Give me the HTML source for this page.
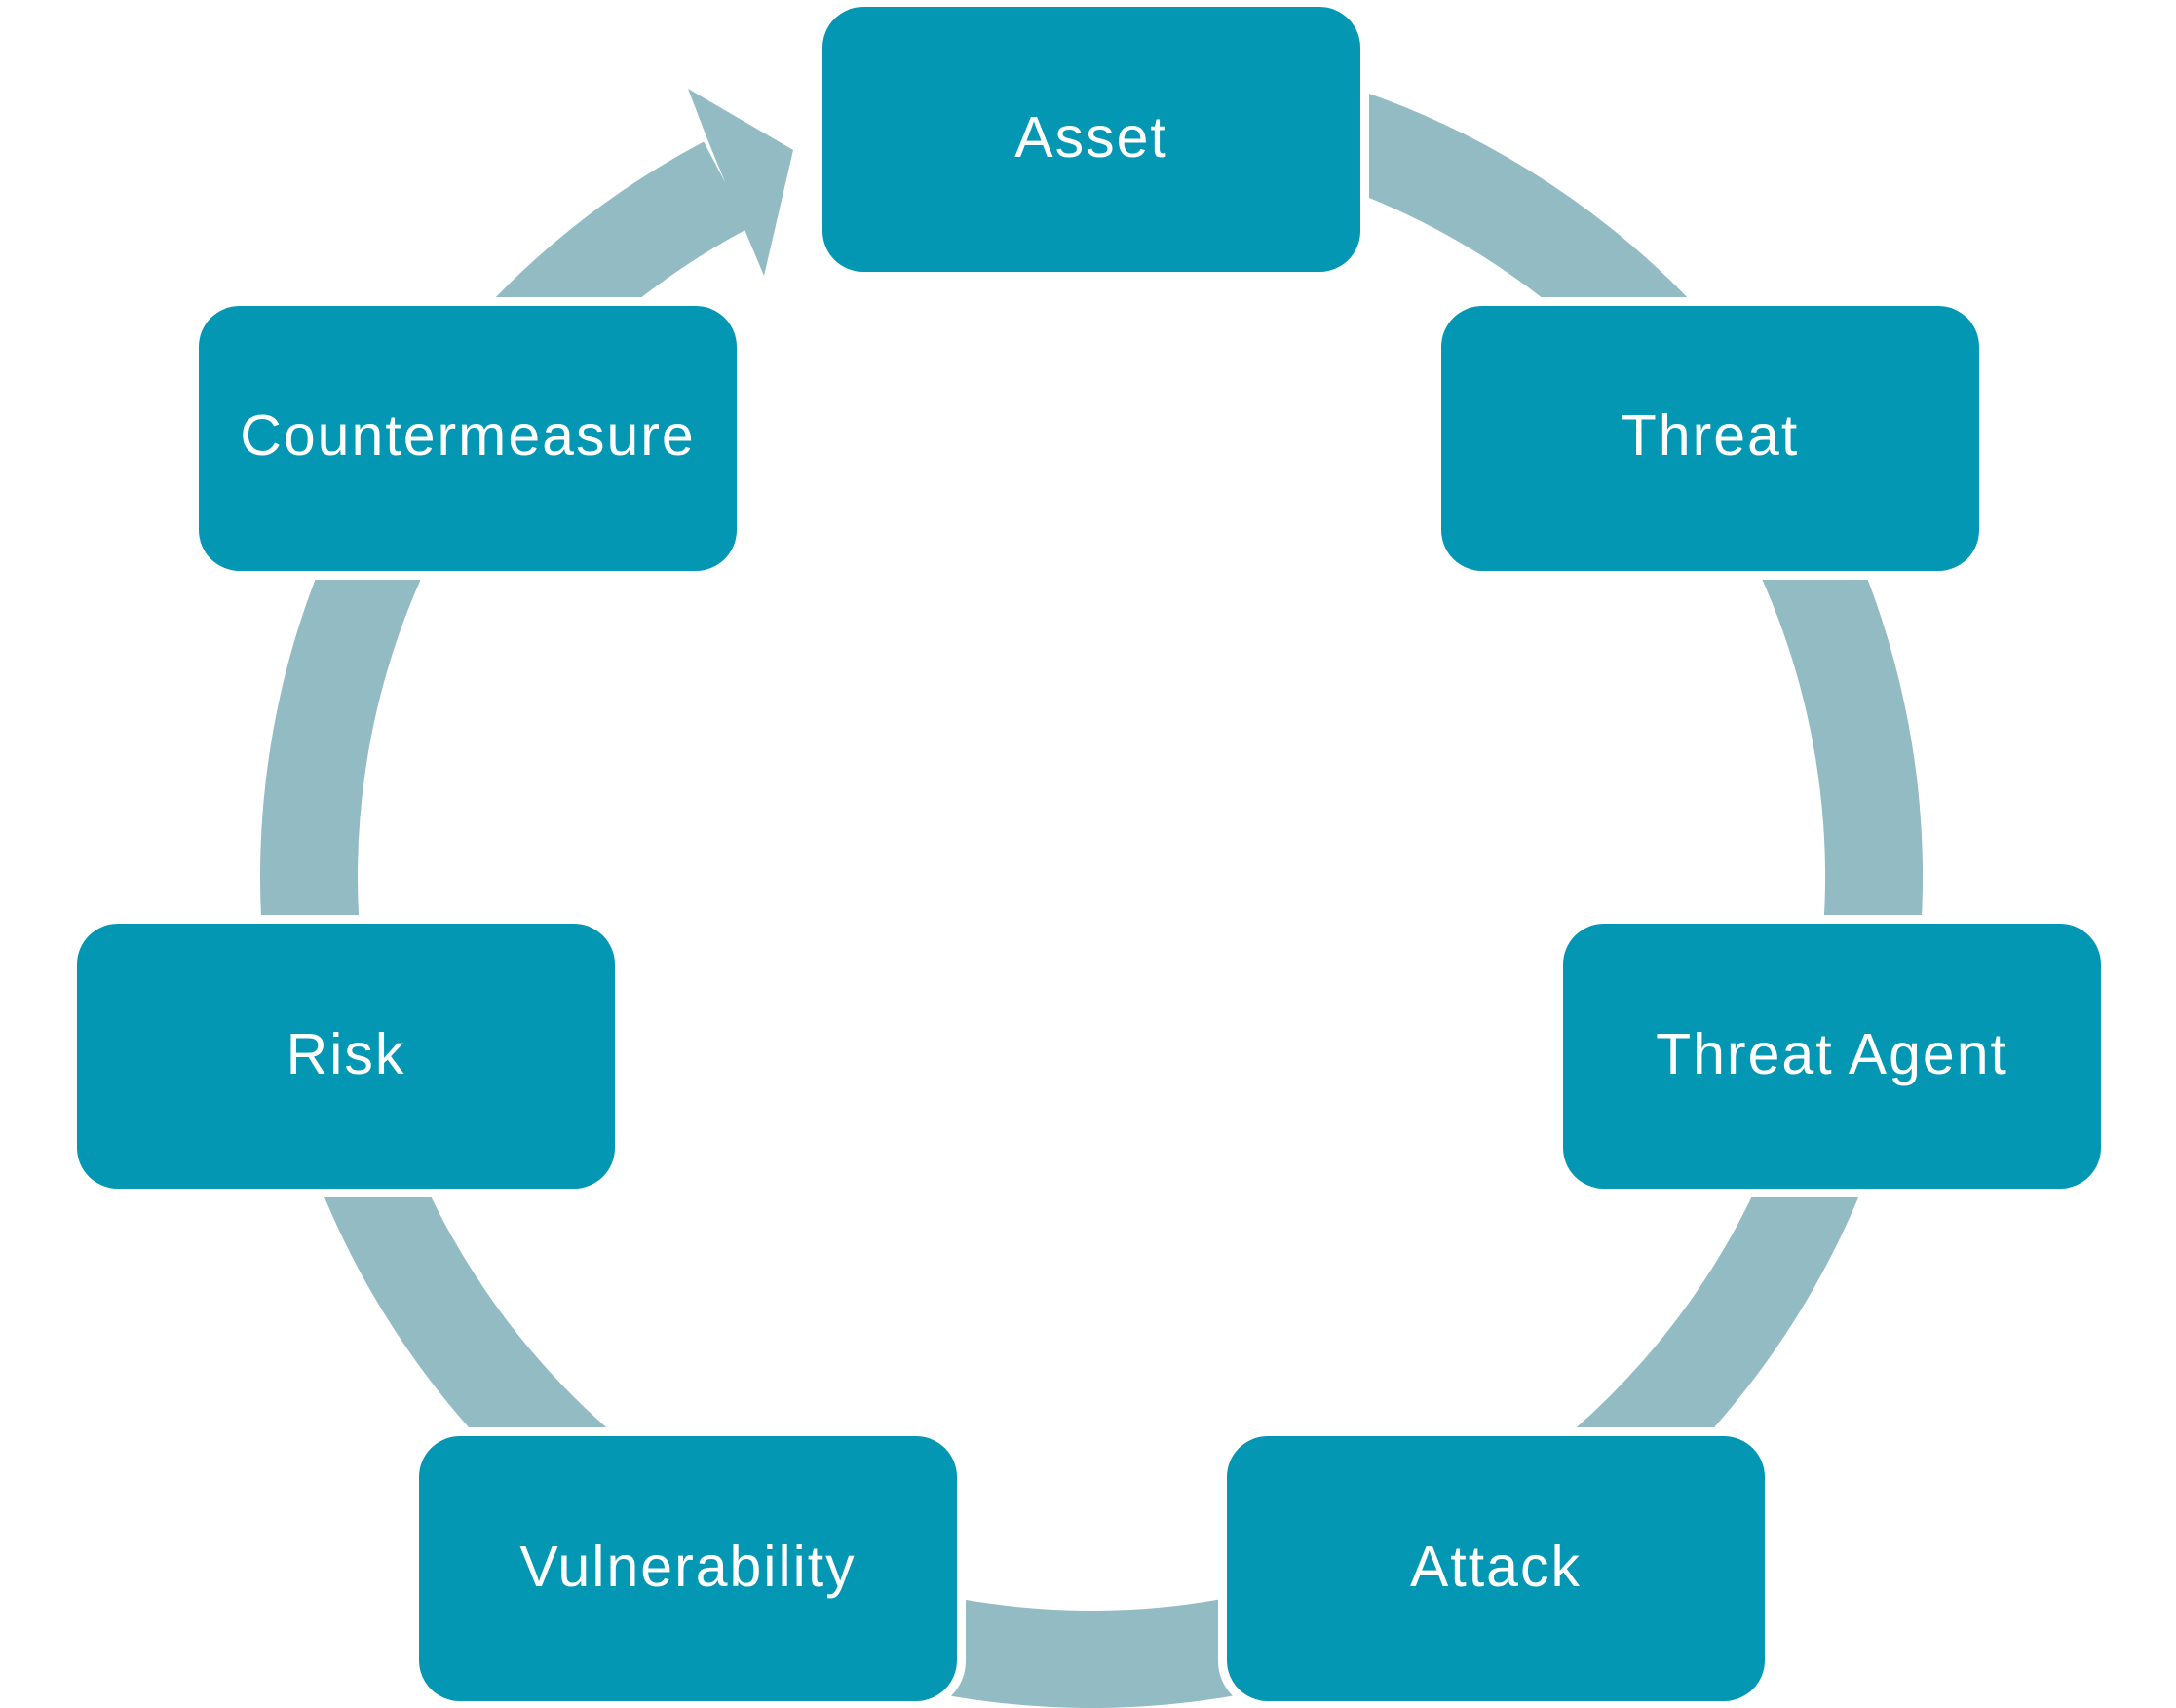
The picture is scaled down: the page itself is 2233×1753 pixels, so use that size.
<!DOCTYPE html>
<html><head><meta charset="utf-8"><style>
html,body{margin:0;padding:0;background:#fff;}
svg{display:block;}
text{font-family:"Liberation Sans",sans-serif;font-size:59px;fill:#fff;text-anchor:middle;dominant-baseline:central;letter-spacing:2px;}
</style></head><body>
<svg width="2233" height="1753" viewBox="0 0 2233 1753" xmlns="http://www.w3.org/2000/svg">
<path d="M745.5 189.7 A803 803 0 1 0 1259.4 109.2" fill="none" stroke="#93bbc3" stroke-width="100"/>
<polygon points="706,91 814,154 784,283 763,233 726,143" fill="#93bbc3"/>
<g fill="#fff">
<rect x="835" y="-2" width="570" height="290" rx="50"/>
<rect x="1470" y="305" width="570" height="290" rx="50"/>
<rect x="1595" y="939" width="570" height="290" rx="50"/>
<rect x="1250" y="1465" width="570" height="290" rx="50"/>
<rect x="421" y="1465" width="570" height="290" rx="50"/>
<rect x="70" y="939" width="570" height="290" rx="50"/>
<rect x="195" y="305" width="570" height="290" rx="50"/>
</g>
<g fill="#0397b3">
<rect x="844" y="7" width="552" height="272" rx="42"/>
<rect x="1479" y="314" width="552" height="272" rx="42"/>
<rect x="1604" y="948" width="552" height="272" rx="42"/>
<rect x="1259" y="1474" width="552" height="272" rx="42"/>
<rect x="430" y="1474" width="552" height="272" rx="42"/>
<rect x="79" y="948" width="552" height="272" rx="42"/>
<rect x="204" y="314" width="552" height="272" rx="42"/>
</g>
<text x="1120" y="141">Asset</text>
<text x="1755" y="447">Threat</text>
<text x="1880" y="1082">Threat Agent</text>
<text x="1535" y="1608">Attack</text>
<text x="706" y="1608">Vulnerability</text>
<text x="355" y="1082">Risk</text>
<text x="480" y="447">Countermeasure</text>
</svg>
</body></html>
